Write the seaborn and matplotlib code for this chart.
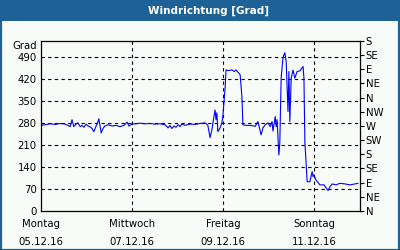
import matplotlib
matplotlib.use("Agg")
import matplotlib.pyplot as plt
import seaborn as sns
import pandas as pd
from matplotlib.patches import Rectangle

sns.set_theme(style="white")
plt.rcParams['font.family'] = ['DejaVu Sans']

# time in days since Montag 05.12.16 00:00
days = [0.00, 0.09, 0.20, 0.31, 0.42, 0.53, 0.59, 0.64, 0.68, 0.72, 0.77, 0.81, 0.86, 0.90,
        0.94, 0.99, 1.03, 1.07, 1.12, 1.16, 1.21, 1.25, 1.27, 1.32, 1.36, 1.40, 1.47, 1.56,
        1.65, 1.73, 1.82, 1.89, 1.93, 2.00, 2.08, 2.17, 2.28, 2.39, 2.50, 2.61, 2.72, 2.79,
        2.83, 2.87, 2.92, 2.96, 3.01, 3.05, 3.09, 3.16, 3.27, 3.38, 3.49, 3.60, 3.66, 3.71,
        3.75, 3.80, 3.82, 3.84, 3.86, 3.88, 3.93, 3.97, 3.99, 4.04, 4.06, 4.10, 4.19, 4.24,
        4.28, 4.32, 4.37, 4.41, 4.43, 4.50, 4.59, 4.70, 4.76, 4.83, 4.87, 4.92, 4.98, 5.03,
        5.07, 5.09, 5.14, 5.16, 5.18, 5.22, 5.24, 5.27, 5.31, 5.35, 5.38, 5.42, 5.44, 5.46,
        5.49, 5.53, 5.57, 5.62, 5.68, 5.75, 5.77, 5.79, 5.82, 5.84, 5.90, 5.95, 5.97, 5.99,
        6.03, 6.12, 6.21, 6.30, 6.34, 6.39, 6.47, 6.56, 6.67, 6.78, 6.89, 6.96]
direction = [272, 274, 277, 275, 278, 276, 272, 268, 290, 268, 276, 280, 268, 272,
             266, 276, 270, 268, 262, 252, 270, 284, 293, 248, 262, 270, 274, 270,
             272, 268, 272, 282, 270, 276, 277, 279, 277, 278, 276, 277, 274, 264,
             272, 262, 270, 266, 274, 268, 276, 272, 276, 275, 278, 280, 273, 233,
             258, 305, 321, 290, 312, 252, 264, 280, 300, 391, 448, 446, 448, 443,
             448, 441, 433, 360, 274, 272, 272, 269, 284, 242, 264, 274, 280, 268,
             284, 254, 300, 268, 290, 178, 216, 423, 487, 503, 475, 316, 443, 284,
             422, 448, 422, 443, 445, 459, 422, 220, 146, 93, 93, 125, 109, 115,
             99, 83, 83, 65, 77, 86, 83, 88, 86, 83, 86, 88]

y_ticks = [0, 70, 140, 210, 280, 350, 420, 490]
compass_ticks = [0, 45, 90, 135, 180, 225, 270, 315, 360, 405, 450, 495, 540]
compass_labels = ["N", "NE", "E", "SE", "S", "SW", "W", "NW", "N", "NE", "E", "SE", "S"]
x_major = [0, 2, 4, 6]
x_labels = ["Montag\n05.12.16", "Mittwoch\n07.12.16", "Freitag\n09.12.16", "Sonntag\n11.12.16"]
title = "Windrichtung [Grad]"

df = pd.DataFrame({"day": days, "dir": direction})

bg = "#f8fcf8"
blue = "#1d6196"
fig = plt.figure(figsize=(4, 2.5), dpi=100, facecolor=bg)

# title bar and border
fig.patches.append(Rectangle((0, 1 - 21 / 250), 1, 21 / 250, transform=fig.transFigure,
                             facecolor=blue, edgecolor="none", zorder=0))
fig.patches.append(Rectangle((0.5 / 400, 0.5 / 250), 1 - 1.5 / 400, 1 - 1.5 / 250,
                             transform=fig.transFigure, facecolor="none", edgecolor=blue,
                             linewidth=1.6, zorder=5))
fig.text(209 / 400, 1 - 11 / 250, title, color="white", fontsize=7.5, fontweight="bold",
         ha="center", va="center")

ax = fig.add_axes([41 / 400, 1 - 211 / 250, 319 / 400, 170 / 250])
ax.set_facecolor(bg)
sns.lineplot(data=df, x="day", y="dir", ax=ax, color="#0000ff", linewidth=0.8)

ax.set_xlim(0, 7)
ax.set_ylim(0, 540)
ax.set_xlabel("")
ax.set_ylabel("")

ax.set_yticks(y_ticks)
ax.set_yticklabels([str(v) for v in y_ticks], fontsize=7.3, color="black")
ax.set_xticks(x_major)
ax.set_xticklabels(x_labels, fontsize=7.3, color="black", linespacing=1.9)
ax.set_xticks(range(0, 8), minor=True)
ax.tick_params(axis="x", which="both", direction="in", length=3, width=0.8, color="black", pad=6)
ax.tick_params(axis="y", which="both", length=0, pad=3)

for v in y_ticks[1:]:
    ax.axhline(v, color="black", linestyle=(0, (3, 3)), linewidth=0.8, zorder=1)
for v in x_major[1:]:
    ax.axvline(v, color="black", linestyle=(0, (3, 3)), linewidth=0.8, zorder=1)

for s in ax.spines.values():
    s.set_color("black")
    s.set_linewidth(0.9)
    s.set_visible(True)

ax2 = ax.twinx()
ax2.set_ylim(0, 540)
ax2.set_yticks(compass_ticks)
ax2.set_yticklabels(compass_labels, fontsize=7.3, color="black")
ax2.tick_params(axis="y", direction="out", length=3, width=0.8, color="black", pad=1)
for s in ax2.spines.values():
    s.set_visible(False)
ax2.grid(False)
ax.grid(False)

fig.text(37 / 400, 1 - 46 / 250, "Grad", fontsize=7.3, ha="right", va="center", color="black")

fig.savefig("out.png", dpi=100, facecolor=bg)
